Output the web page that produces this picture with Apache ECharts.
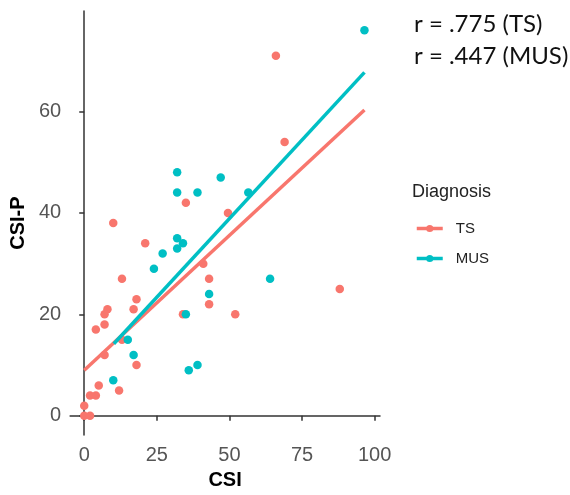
<!DOCTYPE html>
<html>
<head>
<meta charset="utf-8">
<script src="https://cdn.jsdelivr.net/npm/echarts@6/dist/echarts.min.js"></script>
<style>html,body{margin:0;padding:0;background:#fff}#c{width:570px;height:495px}</style>
</head>
<body>
<div id="c"></div>
<script>
// TS group (CSI, CSI-P)
const tsPoints = [
  [66,71],[69,54],[35,42],[49.5,40],[10,38],[21,34],[13,27],[41,30],[43,27],[43,22],
  [18,23],[17,21],[8,21],[7,20],[7,18],[4,17],[34,20],[52,20],[13,15],[7,12],
  [18,10],[5,6],[12,5],[2,4],[4,4],[0,2],[0,0],[2,0],[88,25]
];
// MUS group (CSI, CSI-P)
const musPoints = [
  [96.5,76],[32,48],[47,47],[32,44],[39,44],[56.5,44],[32,35],[34,34],[32,33],[27,32],
  [24,29],[43,24],[35,20],[15,15],[17,12],[10,7],[36,9],[39,10],[64,27]
];
// fitted regression line endpoints
const tsFit = [[0,9.0],[96.5,60.3]];
const musFit = [[10.2,14.2],[96.5,67.7]];
const xTicks = [0,25,50,75,100];
const yTicks = [0,20,40,60];
const annotations = ['r = .775 (TS)','r = .447 (MUS)'];
const legendTitle = 'Diagnosis';

const RED = '#F8766D', TEAL = '#00BFC4';
const chart = echarts.init(document.getElementById('c'), null, {renderer:'canvas'});
const axisCommon = {
  axisLine:{show:true,lineStyle:{color:'#333',width:1.5}},
  axisTick:{show:true,length:5,lineStyle:{color:'#333',width:1.5}},
  axisLabel:{color:'#555',fontSize:20,fontFamily:'Liberation Sans, Arial'},
  splitLine:{show:false},
  nameTextStyle:{color:'#000',fontSize:20,fontWeight:'bold',fontFamily:'Liberation Sans, Arial'}
};
chart.setOption({
  animation:false,
  grid:{left:69,top:11,width:311,height:430,containLabel:false},
  xAxis:Object.assign({}, axisCommon, {
    type:'value',min:-4.85,max:101.85,name:'CSI',nameLocation:'middle',nameGap:32,
    axisTick:Object.assign({}, axisCommon.axisTick, {customValues:xTicks}),
    axisLabel:Object.assign({}, axisCommon.axisLabel, {customValues:xTicks,margin:10})
  }),
  yAxis:Object.assign({}, axisCommon, {
    type:'value',min:-3.8,max:79.8,name:'CSI-P',nameLocation:'middle',nameGap:38,
    axisTick:Object.assign({}, axisCommon.axisTick, {customValues:yTicks}),
    axisLabel:Object.assign({}, axisCommon.axisLabel, {customValues:yTicks,margin:9})
  }),
  legend:{
    orient:'vertical',left:410,top:216,itemWidth:26,itemHeight:9,itemGap:15,
    data:['TS','MUS'],
    lineStyle:{width:3.5},
    textStyle:{color:'#222',fontSize:15,fontFamily:'Liberation Sans, Arial',padding:[0,0,0,8]}
  },
  graphic:[
    {type:'text',left:412,top:183,style:{text:legendTitle,fontSize:18,fill:'#222',fontFamily:'Liberation Sans, Arial'}},
    {type:'text',left:414,top:12,style:{text:annotations[0],fontSize:24,fill:'#111',fontFamily:'Lato'}},
    {type:'text',left:414,top:44,style:{text:annotations[1],fontSize:24,fill:'#111',fontFamily:'Lato'}}
  ],
  series:[
    {name:'TS',type:'line',data:tsFit,symbol:'circle',symbolSize:7,showSymbol:false,
     lineStyle:{color:RED,width:3.5},itemStyle:{color:RED},z:5,silent:true},
    {name:'MUS',type:'line',data:musFit,symbol:'circle',symbolSize:7,showSymbol:false,
     lineStyle:{color:TEAL,width:3.5},itemStyle:{color:TEAL},z:5,silent:true},
    {name:'TS',type:'scatter',data:tsPoints,symbolSize:8.5,itemStyle:{color:RED,opacity:1},z:3},
    {name:'MUS',type:'scatter',data:musPoints,symbolSize:8.5,itemStyle:{color:TEAL,opacity:1},z:4}
  ]
});
</script>
</body>
</html>
